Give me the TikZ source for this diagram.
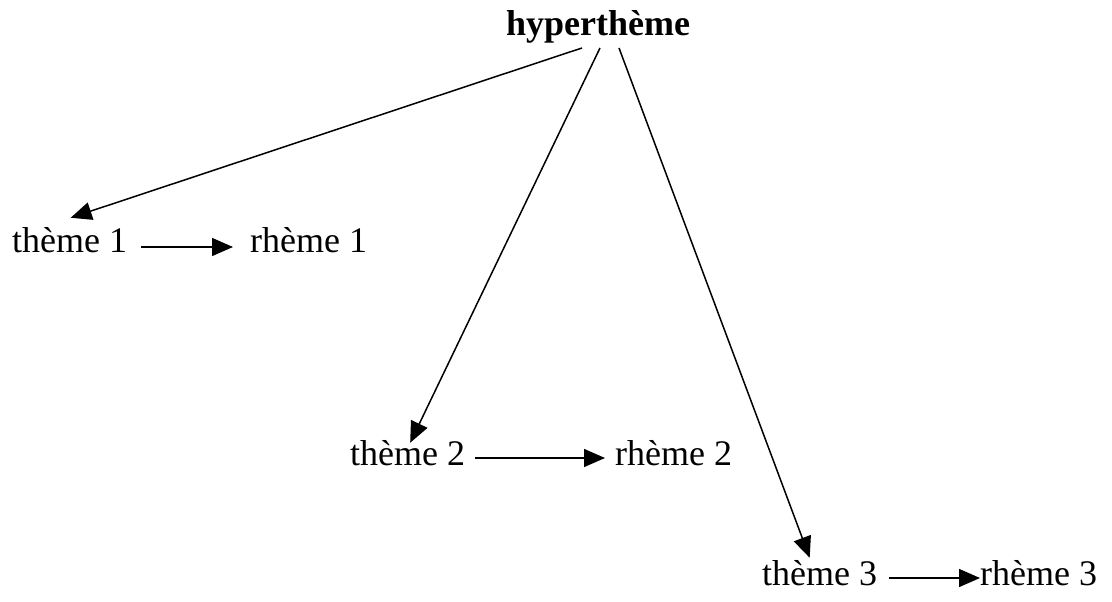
\documentclass[tikz,border=0pt]{standalone}
\usepackage{fontspec}
\setmainfont{Liberation Serif}
\usetikzlibrary{arrows.meta}
\begin{document}
\begin{tikzpicture}[x=1pt,y=-1pt,
  lbl/.style={inner sep=0pt,anchor=base west,font=\fontsize{36}{40}\selectfont},
  link/.style={line width=1.5pt,-{Triangle[length=21pt,width=18pt]}}]
\useasboundingbox (0,0) rectangle (1112,602);
% top node
\node[inner sep=0pt,anchor=base,font=\fontsize{36}{40}\selectfont\bfseries] (h) at (598,36) {hyperthème};
% theme / rheme pairs
\node[lbl] (t1) at (12,252) {thème 1};
\node[lbl] (r1) at (250,252) {rhème 1};
\node[lbl] (t2) at (350,465) {thème 2};
\node[lbl] (r2) at (615,465) {rhème 2};
\node[lbl] (t3) at (762,585) {thème 3};
\node[lbl] (r3) at (980,585) {rhème 3};
% hypertheme to each theme
\draw[link] ([xshift=-16pt,yshift=-4pt]h.south) -- ([xshift=1pt,yshift=9pt]t1.north);
\draw[link] ([xshift=2pt,yshift=-4pt]h.south) -- ([xshift=2.5pt,yshift=-3pt]t2.north);
\draw[link] ([xshift=21pt,yshift=-4pt]h.south) -- ([xshift=-10pt,yshift=2pt]t3.north);
% theme to rheme
\draw[link] ([xshift=14pt,yshift=5pt]t1.base east) -- ([xshift=-17pt,yshift=5pt]r1.base west);
\draw[link] ([xshift=10pt,yshift=7pt]t2.base east) -- ([xshift=-10pt,yshift=7pt]r2.base west);
\draw[link] ([xshift=12pt,yshift=7pt]t3.base east) -- ([xshift=0pt,yshift=7pt]r3.base west);
\end{tikzpicture}
\end{document}
